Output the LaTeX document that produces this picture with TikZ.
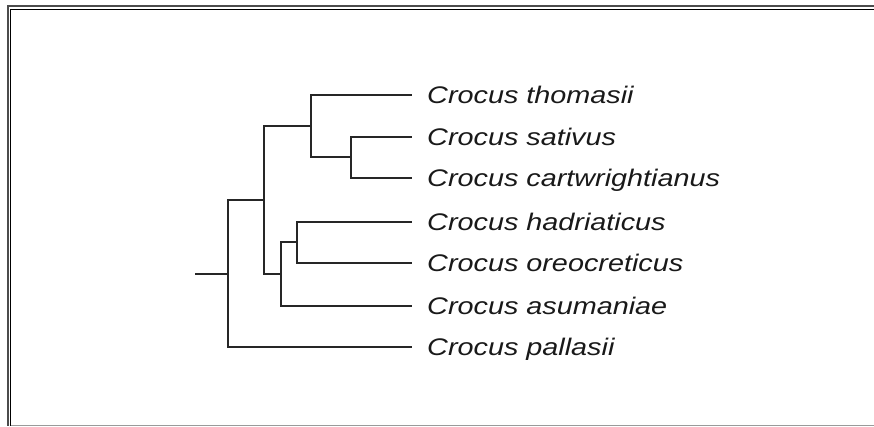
\documentclass[tikz,border=0pt]{standalone}
\usepackage{graphicx}
\usepackage{fontspec}
\newfontfamily\taxonfont{Liberation Sans}
\usepackage{tikz}
\definecolor{branchc}{HTML}{262626}
\definecolor{framegrey}{HTML}{9A9A9A}
\newcommand{\taxon}[1]{\scalebox{1.2}[1]{#1}}

\begin{document}
\begin{tikzpicture}[x=1pt,y=-1pt,
  leaf/.style={anchor=west,inner xsep=15pt,inner ysep=0pt,
               text height=17pt,text depth=0pt,text=black!90,
               font=\taxonfont\itshape\fontsize{24}{28}\selectfont},
  branch/.style={draw=branchc,line width=2.5pt},
]
\useasboundingbox (0,0) rectangle (874,426);

% frame
\draw[black!70,line width=1.2pt] (874,6) -- (8,6) -- (8,426);
\draw[black,line width=1.2pt] (874,9.5) -- (10.5,9.5) -- (10.5,426);
\draw[framegrey,line width=1pt] (10.5,425) -- (874,425);

% taxa
\node[leaf] (tho) at (412,95)  {\taxon{Crocus thomasii}};
\node[leaf] (sat) at (412,137) {\taxon{Crocus sativus}};
\node[leaf] (car) at (412,178) {\taxon{Crocus cartwrightianus}};
\node[leaf] (had) at (412,222) {\taxon{Crocus hadriaticus}};
\node[leaf] (ore) at (412,263) {\taxon{Crocus oreocreticus}};
\node[leaf] (asu) at (412,306) {\taxon{Crocus asumaniae}};
\node[leaf] (pal) at (412,347) {\taxon{Crocus pallasii}};

% internal nodes
\coordinate (stem) at (195,274);
\coordinate (root) at (228,274);
\coordinate (nC) at (264,200);
\coordinate (nA) at (311,126);
\coordinate (nB) at (351,157);
\coordinate (nD) at (281,274);
\coordinate (nE) at (297,242);

% branches
\draw[branch] (stem) -- (root);
\draw[branch] (root) |- (nC);
\draw[branch] (root) |- (pal.west);
\draw[branch] (nC) |- (nA);
\draw[branch] (nC) |- (nD);
\draw[branch] (nA) |- (tho.west);
\draw[branch] (nA) |- (nB);
\draw[branch] (nB) |- (sat.west);
\draw[branch] (nB) |- (car.west);
\draw[branch] (nD) |- (nE);
\draw[branch] (nD) |- (asu.west);
\draw[branch] (nE) |- (had.west);
\draw[branch] (nE) |- (ore.west);
\end{tikzpicture}
\end{document}
